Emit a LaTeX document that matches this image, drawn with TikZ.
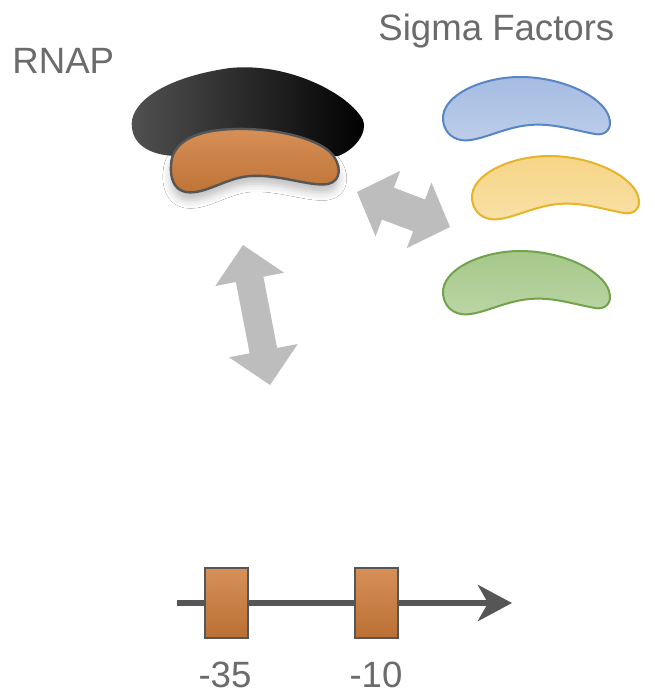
\documentclass[tikz,border=0pt]{standalone}
\usepackage{fontspec}
\setmainfont{Liberation Sans}
\usetikzlibrary{calc,arrows.meta,shadows.blur}
\definecolor{txtgray}{HTML}{6B6B6B}
\definecolor{dnagray}{HTML}{565656}
\definecolor{arrgray}{HTML}{BDBDBD}
\definecolor{rnaporange}{HTML}{CF7C3A}
\definecolor{blueline}{HTML}{5A85C5}
\definecolor{bluefill}{HTML}{ADC2E5}
\definecolor{yellowline}{HTML}{E6B42A}
\definecolor{yellowfill}{HTML}{F7D88F}
\definecolor{greenline}{HTML}{72A34C}
\definecolor{greenfill}{HTML}{AACB8F}
% fat double arrow between two named points
\newcommand{\bigarrow}[5]{%
  \fill[arrgray] (#1)
    -- ($(#1)!#5!(#2)!#4!90:(#2)$) -- ($(#1)!#5!(#2)!#3!90:(#2)$)
    -- ($(#2)!#5!(#1)!#3!-90:(#1)$) -- ($(#2)!#5!(#1)!#4!-90:(#1)$)
    -- (#2)
    -- ($(#2)!#5!(#1)!#4!90:(#1)$) -- ($(#2)!#5!(#1)!#3!90:(#1)$)
    -- ($(#1)!#5!(#2)!#3!-90:(#2)$) -- ($(#1)!#5!(#2)!#4!-90:(#2)$)
    -- cycle;}
\tikzset{
  title/.style={text=txtgray, inner sep=0pt, anchor=base west,
    font=\fontsize{18.3pt}{20pt}\selectfont},
  numlabel/.style={text=txtgray, inner sep=0pt, anchor=base,
    font=\fontsize{18.3pt}{20pt}\selectfont},
  promoter/.style={draw=dnagray, line width=1.2pt, top color=rnaporange!85!white,
    bottom color=rnaporange!90!black, minimum width=21.5pt, minimum height=35pt,
    inner sep=0pt},
  sigma/.pic={
    \path[pic actions] (0,43) .. controls (-2,18) and (40,0) .. (77,0)
      .. controls (120,0) and (160,20) .. (166,40)
      .. controls (170,52) and (162,59) .. (152,57)
      .. controls (130,53) and (110,46) .. (87,48)
      .. controls (60,50) and (35,66) .. (18,63)
      .. controls (7,61) and (1,53) .. cycle;
  },
  sigblue/.style={draw=blueline, line width=1pt, top color=bluefill!90!blueline, bottom color=bluefill!80!white},
  sigyellow/.style={draw=yellowline, line width=1pt, top color=yellowfill!92!yellowline, bottom color=yellowfill!80!white},
  siggreen/.style={draw=greenline, line width=1pt, top color=greenfill!92!greenline, bottom color=greenfill!80!white},
}
\begin{document}
\begin{tikzpicture}[x=0.5pt, y=-0.5pt]
    \useasboundingbox[fill=white] (0,0) rectangle (654,696);
    % Titles
    \node[title] (rnaplabel) at (12,73) {RNAP};
    \node[title] (sigmalabel) at (378,40) {Sigma Factors};
    % --- RNAP core ---
    \path[left color=black!68, middle color=black, right color=black]
      (132,128) .. controls (128,105) and (160,78) .. (230,68)
      .. controls (290,62) and (350,95) .. (363,120)
      .. controls (368,132) and (355,150) .. (338,156)
      -- (175,156) .. controls (150,155) and (134,145) .. (132,128) -- cycle;
    \path[draw=dnagray, line width=1.2pt, top color=rnaporange!85!white,
      bottom color=rnaporange!92!black,
      blur shadow={shadow xshift=0pt, shadow yshift=-4pt, shadow opacity=25,
        shadow blur radius=4pt}]
      (171,165) .. controls (172,142) and (195,130) .. (235,129)
      .. controls (275,128) and (315,138) .. (330,152)
      .. controls (342,164) and (342,181) .. (328,184)
      .. controls (310,187) and (280,174) .. (250,176)
      .. controls (225,178) and (205,195) .. (186,192)
      .. controls (174,190) and (170,178) .. cycle;
    % --- Sigma factors ---
    \pic[sigblue] at (443,77) {sigma};
    \pic[sigyellow] at (472,156) {sigma};
    \pic[siggreen] at (443,251) {sigma};
    % --- Binding arrows ---
    \coordinate (dtop) at (357,192);
    \coordinate (dbot) at (450,227);
    \bigarrow{dtop}{dbot}{8.5pt}{17.5pt}{16.5pt}
    \coordinate (vtop) at (243,245);
    \coordinate (vbot) at (270,385);
    \bigarrow{vtop}{vbot}{7pt}{17.5pt}{17.5pt}
    % --- Promoter ---
    \coordinate (dnastart) at (177,603);
    \coordinate (dnaend) at (512,603);
    \draw[dnagray, line width=3.2pt,
      -{Stealth[length=17pt, width=18pt, inset=5pt]}] (dnastart) -- (dnaend);
    \node[promoter] (box35) at (226.5,603) {};
    \node[promoter] (box10) at (376.5,603) {};
    \node[numlabel] (lab35) at (225,687) {-35};
    \node[numlabel] (lab10) at (376,687) {-10};
\end{tikzpicture}
\end{document}
